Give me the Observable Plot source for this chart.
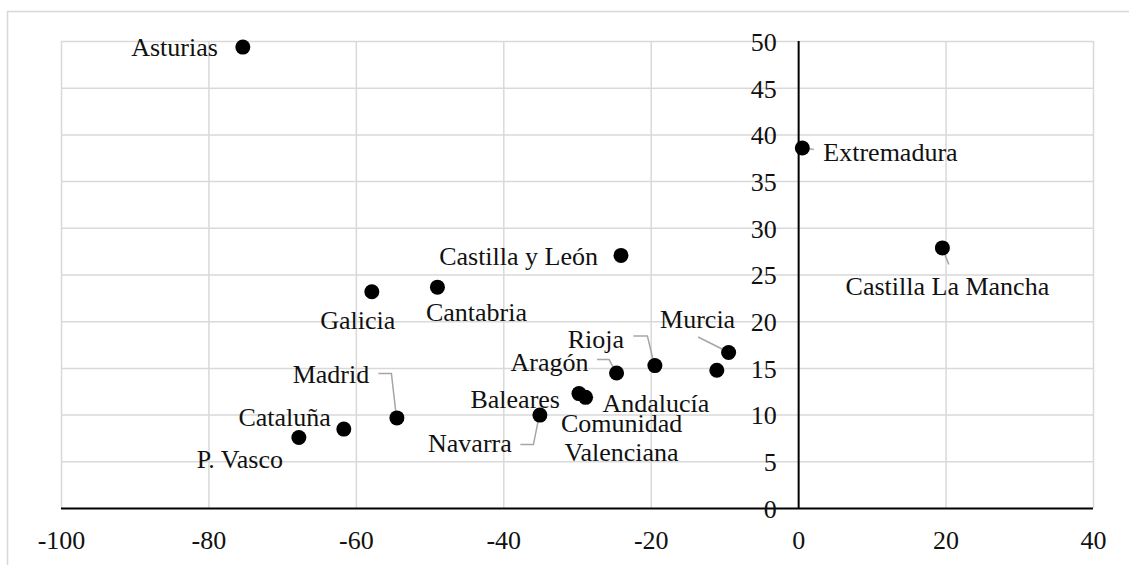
<!DOCTYPE html>
<html>
<head>
<meta charset="utf-8">
<script src="https://cdn.jsdelivr.net/npm/d3@7"></script>
<script src="https://cdn.jsdelivr.net/npm/@observablehq/plot@0.6"></script>
<style>
  html, body { margin: 0; padding: 0; background: #fff; }
  #chart svg { display: block; }
</style>
</head>
<body>
<div id="chart"></div>
<script>
// ---- Data ----
const regions = ["Asturias", "Extremadura", "Castilla La Mancha", "Castilla y León", "Cantabria", "Galicia",
  "Murcia", "Rioja", "Aragón", "Baleares", "Comunidad\nValenciana", "Andalucía", "Navarra", "Madrid",
  "Cataluña", "P. Vasco"];
const xValues = [-75.4, 0.5, 19.5, -24.1, -49.0, -57.9, -9.5, -19.5, -24.7, -29.8, -28.9, -11.1, -35.1, -54.5, -61.7, -67.8];
const yValues = [49.4, 38.6, 27.9, 27.1, 23.7, 23.2, 16.7, 15.3, 14.5, 12.3, 11.9, 14.8, 10.0, 9.7, 8.5, 7.6];
const xTicks = [-100, -80, -60, -40, -20, 0, 20, 40];
const yTicks = [0, 5, 10, 15, 20, 25, 30, 35, 40, 45, 50];

// ---- Label layout (pixel offsets from each point; styling only) ----
const labelAnchor = ["end", "start", "middle", "end", "middle", "middle", "middle", "middle", "middle", "end", "middle", "middle", "middle", "middle", "end", "middle"];
const labelDx = [-25, 21, 5, -23, 39, -14, -31, -59, -67, -19, 36, -61, -70, -66, -13, -59];
const labelDy = [0, 4, 38, 0, 25, 28, -34, -27, -11, 5, 40, 32, 28, -44, -12, 21];
const leaders = [null, [[12, 2], [0, 0]], [[7, 17], [0, 0]], null, null, null,
  [[-30, -15], [0, 0]], [[-21, -29], [-7, -29], [0, 0]], [[-19, -13], [-7, -13], [0, 0]], null, null, null,
  [[-19, 30], [-6, 30], [0, 0]], [[-18, -44], [-5, -44], [0, 0]], null, null];

const data = regions.map((r, i) => ({region: r, x: xValues[i], y: yValues[i], i}));

const FONT = "'Liberation Serif', 'Times New Roman', Times, serif";
const FS = 26;
const TEXT = "#111";

function borderMark(index, scales, values, dims) {
  const d = dims || {width: 1129, height: 565};
  const g = d3.create("svg:g");
  g.append("rect")
    .attr("x", 7.5).attr("y", 11.5)
    .attr("width", d.width + 20).attr("height", d.height + 20)
    .attr("fill", "none").attr("stroke", "#d9d9d9").attr("stroke-width", 1.6);
  return g.node();
}

function leaderMark(index, scales) {
  const g = d3.create("svg:g").attr("fill", "none").attr("stroke", "#a6a6a6").attr("stroke-width", 1.5);
  data.forEach((d, i) => {
    const pts = leaders[i];
    if (!pts) return;
    const px = scales.x(d.x), py = scales.y(d.y);
    g.append("path").attr("d", d3.line()(pts.map(([ox, oy]) => [px + ox, py + oy])));
  });
  return g.node();
}

const labelMarks = data.map((d, i) => Plot.text([d], {
  x: "x", y: "y", text: "region",
  dx: labelDx[i], dy: labelDy[i], textAnchor: labelAnchor[i],
  lineHeight: 1.12,
  fontFamily: FONT, fontSize: FS, fill: TEXT
}));

const chart = Plot.plot({
  width: 1129,
  height: 565,
  marginLeft: 61,
  marginRight: 36,
  marginTop: 41,
  marginBottom: 57,
  x: {domain: [-100, 40], axis: null},
  y: {domain: [0, 50], axis: null},
  style: {fontFamily: FONT, fontSize: FS + "px", background: "transparent", color: TEXT},
  marks: [
    borderMark,
    Plot.ruleX(xTicks.filter(t => t !== 0), {stroke: "#d9d9d9", strokeWidth: 1.5}),
    Plot.ruleY(yTicks.filter(t => t !== 0), {x1: -100, x2: 40, stroke: "#d9d9d9", strokeWidth: 1.5}),
    Plot.ruleX([0], {y1: 0, y2: 50, stroke: "#000", strokeWidth: 2}),
    Plot.ruleY([0], {x1: -100, x2: 40, stroke: "#000", strokeWidth: 2}),
    Plot.text(yTicks, {x: 0, y: d => d, text: d => String(d), dx: -22, dy: 1, textAnchor: "end",
      fontFamily: FONT, fontSize: FS, fill: TEXT}),
    Plot.text(xTicks, {x: d => d, y: 0, text: d => String(d), dy: 32, textAnchor: "middle",
      fontFamily: FONT, fontSize: FS, fill: TEXT}),
    leaderMark,
    Plot.dot(data, {x: "x", y: "y", r: 7.5, fill: "#000", stroke: "none"}),
    ...labelMarks
  ]
});

document.getElementById("chart").appendChild(chart);
</script>
</body>
</html>
